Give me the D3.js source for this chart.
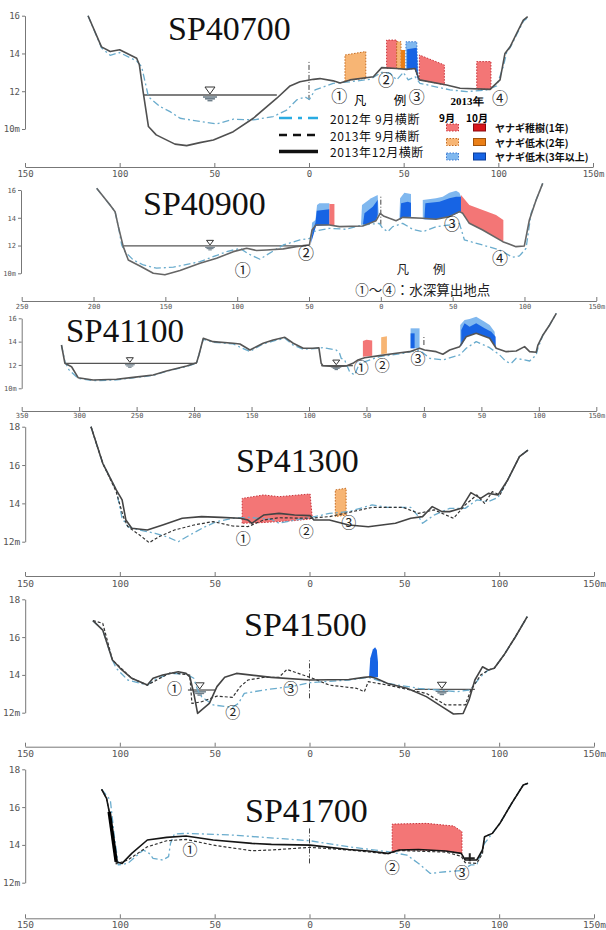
<!DOCTYPE html>
<html><head><meta charset="utf-8">
<script src="https://cdn.jsdelivr.net/npm/d3@7"></script>
<style>
body{margin:0;background:#fff}
svg{display:block}
.ax text{font-family:"DejaVu Sans Mono",monospace;fill:#555}
.ax path,.ax line{stroke:#777;stroke-width:1}
</style>
</head><body>
<svg id="chart" width="606" height="930"></svg>
<script>
// ---------- tick values ----------
const ticksStd = [-150, -100, -50, 0, 50, 100, 150];
const ticksWide = [-250, -200, -150, -100, -50, 0, 50, 100, 150];
const ticksWider = [-350, -300, -250, -200, -150, -100, -50, 0, 50, 100, 150];
const elevLow = [10, 12, 14, 16];
const elevHigh = [12, 14, 16, 18];

// ---------- SP40700 ----------
const sp40700_dec2013 = [[-116.7,16.0],[-109.6,14.35],[-105,14.1],[-100,14.2],[-91,13.75],[-89.6,13.4],[-87.5,11.9],[-84.8,10.13],[-80.7,9.69],[-70.8,9.2],[-64.6,9.12],[-57.6,9.28],[-50.5,9.42],[-40,9.86],[-29.4,10.57],[-17,11.63],[-10,12.28],[-4.8,12.5],[2.3,12.63],[5.8,12.67],[12.8,12.55],[16.4,12.43],[21.7,12.6],[34,12.77],[38.4,13.25],[46.3,13.2],[51.6,13.16],[56,13.2],[58.3,12.6],[72.7,12.33],[79.8,12.16],[95.6,12.1],[100.9,12.6],[103.5,14.0],[106.2,14.35],[109.7,15.07],[113.2,15.77],[115.5,15.95]];
const sp40700_sep2012 = [[-116.7,16.0],[-109.6,14.3],[-105,13.9],[-100,14.05],[-91,13.6],[-88.4,13.3],[-84.8,11.71],[-78.7,11.19],[-73.4,10.92],[-68.1,10.57],[-57.6,10.4],[-48.8,10.27],[-40,10.52],[-29.4,10.48],[-18.9,10.66],[-11.8,11.0],[-6.5,11.54],[-2.1,11.7],[0.2,11.56],[3.2,12.07],[12.8,12.42],[21.7,12.5],[32.2,12.63],[38.4,13.0],[42.8,12.95],[46.3,12.6],[49.8,13.0],[52.4,12.6],[56,12.77],[58.6,12.42],[74.5,12.07],[83.3,11.98],[93.8,12.07],[99.1,12.28],[102.6,13.3],[104.5,14.1],[106.2,14.3],[109.7,15.0],[113.2,15.7],[115.5,15.9]];
const sp40700_willow = [
  ["o9", [[19,12.5],[19,13.92],[30,14.1],[30,12.68],[21.7,12.6]]],
  ["p9", [[41,13.22],[41,14.71],[46.3,14.71],[46.3,13.2]]],
  ["o9", [[46.3,13.2],[46.3,14.62],[48.6,14.62],[48.6,13.18]]],
  ["o10", [[48.6,13.18],[48.6,14.18],[50.7,14.18],[50.7,13.17]]],
  ["b9", [[51.2,13.16],[51.2,14.62],[56.9,14.62],[57.6,12.62],[56,13.2]]],
  ["b10", [[51.8,13.16],[51.8,14.22],[56.9,14.3],[57.6,12.62],[56,13.2]]],
  ["p9", [[58.3,12.6],[58.3,13.92],[71.5,13.39],[71.5,12.34]]],
  ["p9", [[88.6,12.12],[88.6,13.57],[96.1,13.57],[96.1,12.1]]]
];
const sp40700_water = [[-87.5, -17, 11.8, -52.3]];
const sp40700_center = [11.54, 13.57];
const sp40700_points = [["①",16.0,11.8],["②",40.7,12.65],["③",56.9,11.76],["④",100.9,11.71]];

// ---------- SP40900 ----------
const sp40900_dec2013 = [[-197.8,16.12],[-188.5,14.92],[-185,14.44],[-182.7,13.36],[-179.3,11.92],[-175.8,10.96],[-167.7,10.53],[-158.4,10.0],[-150.3,9.89],[-139.8,10.2],[-125.9,10.72],[-114.3,11.08],[-102.7,11.56],[-93.4,11.8],[-86.5,11.64],[-79.5,11.68],[-67.9,11.76],[-59,11.92],[-49.7,12.05],[-47.9,13.12],[-45.1,13.48],[-35.8,13.48],[-28.8,13.36],[-12.6,13.41],[-3.3,13.79],[-0.5,14.32],[1.8,14.13],[6,13.96],[10.6,13.79],[15.2,14.03],[29.2,13.96],[38.4,13.89],[47.7,14.08],[54.7,14.44],[57,14.32],[61.6,13.6],[70.9,13.12],[84.9,12.28],[94.1,11.92],[99.9,11.97],[103.4,13.84],[108.1,15.28],[112.7,16.48]];
const sp40900_sep2012 = [[-197.8,16.12],[-188.5,14.92],[-185,14.44],[-182.7,13.36],[-180.4,12.04],[-178.1,11.56],[-172.3,10.96],[-165.3,10.6],[-156.1,10.37],[-144.4,10.44],[-125.9,10.84],[-107.3,11.56],[-98,11.8],[-92.2,11.4],[-84.1,11.01],[-79.5,11.32],[-67.9,12.04],[-56.3,12.4],[-49.3,12.52],[-47.4,13.0],[-35.8,13.24],[-24.2,13.17],[-12.6,13.48],[-1,13.6],[1.3,13.24],[4.8,13.0],[8.3,13.36],[15.2,13.6],[22.2,13.17],[29.2,13.0],[32.6,13.12],[38.4,13.36],[47.7,13.48],[54.7,13.6],[58.2,12.4],[70.9,12.04],[82.5,11.68],[91.8,11.16],[96.5,11.25],[101.1,11.8],[104.6,14.32],[108.1,15.28],[112.7,16.48]];
const sp40900_willow = [
  ["b9", [[-48.6,12.28],[-47.9,13.65],[-45.5,13.84],[-44.4,14.92],[-42.8,15.04],[-35.8,15.04],[-35.8,13.48],[-45.1,13.48]]],
  ["b10", [[-48.6,12.16],[-47.4,13.12],[-45.5,13.65],[-44.6,14.51],[-35.8,14.61],[-35.8,13.48],[-45.1,13.41]]],
  ["p9", [[-35.8,14.99],[-32.3,14.99],[-32.3,13.45],[-35.8,13.48]]],
  ["b9", [[-13.8,13.48],[-13.1,14.92],[-6.8,15.4],[-2.2,15.64],[-1.5,14.32],[-3.3,13.79]]],
  ["b10", [[-12.6,13.41],[-11.4,14.32],[-5.6,14.8],[-2.2,15.28],[-2.2,14.2],[-3.3,13.79]]],
  ["b9", [[12.9,13.84],[13.4,15.4],[16.4,15.81],[21,15.71],[21,14.08],[15.2,14.03]]],
  ["b10", [[13.4,13.84],[14.1,15.04],[18.7,15.16],[21,15.09],[21,14.08],[15.2,14.03]]],
  ["b9", [[29.2,13.89],[29.2,15.28],[38.4,15.4],[43.1,15.52],[47.7,15.81],[52.4,15.95],[54.7,15.81],[55.8,15.52],[55.8,14.44],[47.7,14.08],[38.4,13.89]]],
  ["b10", [[30.3,13.89],[31,15.04],[40.8,15.16],[47.7,15.4],[52.4,15.52],[55.8,15.52],[55.8,14.44],[47.7,14.08],[38.4,13.89]]],
  ["p9", [[55.8,15.64],[61.6,14.92],[70.9,14.56],[80.2,14.2],[85.3,13.84],[85.3,12.28],[70.9,13.12],[61.6,13.6],[57,14.32],[55.8,14.44]]]
];
const sp40900_water = [[-179.3, -52, 11.97, -118.9]];
const sp40900_center = [13.5, 15.6];
const sp40900_points = [["①",-96.1,10.3],["②",-52.1,11.56],["③",49.6,13.65],["④",83,11.2]];

// ---------- SP41100 ----------
const sp41100_dec2013 = [[-315.4,13.71],[-312.4,12.14],[-306.6,11.85],[-300.9,10.91],[-287.8,10.71],[-267.5,10.77],[-253,10.94],[-235.6,11.14],[-224,11.48],[-206.5,11.91],[-197.8,12.2],[-195.8,12.86],[-192,14.29],[-183.4,14.0],[-166,13.86],[-160.1,13.8],[-151.4,13.28],[-139.9,13.86],[-131.2,14.14],[-121,14.37],[-113.7,13.86],[-105,13.43],[-96.6,13.43],[-91.4,13.48],[-89.4,12.14],[-87.9,11.94],[-76.3,11.85],[-67.6,11.91],[-61.8,12.14],[-57.4,12.43],[-51.6,12.62],[-38.6,12.8],[-24.1,13.0],[-12.5,13.14],[-3.8,13.43],[0.6,13.28],[10.7,13.14],[16.5,12.92],[22.4,13.28],[31.1,13.57],[36.8,14.42],[45.5,14.71],[57.2,14.29],[62.9,13.43],[71.6,13.14],[80.3,13.2],[87.6,13.57],[92,13.14],[97.7,13.09],[99.2,13.71],[103.6,14.57],[109.4,15.43],[115.2,16.43]];
const sp41100_sep2012 = [[-315.4,13.71],[-312.4,12.3],[-309,11.6],[-300.9,10.85],[-287.8,10.65],[-267.5,10.72],[-253,10.9],[-235.6,11.1],[-224,11.45],[-206.5,11.88],[-197.8,12.15],[-195.8,12.86],[-192,14.2],[-183.4,13.95],[-166,13.8],[-151.4,13.15],[-139.9,13.8],[-131.2,14.05],[-121,14.3],[-113.7,13.7],[-105,13.35],[-92.3,13.43],[-87.9,13.48],[-76.3,13.28],[-73.4,13.0],[-72,12.57],[-69,12.43],[-64.7,11.42],[-60.3,11.14],[-56,12.14],[-38.6,12.71],[-18.3,13.0],[-3.8,13.28],[5,12.57],[16.5,12.43],[31.1,12.86],[36.8,13.43],[45.5,14.0],[57.2,13.48],[65.9,12.86],[71.6,12.28],[76,12.14],[80.3,12.57],[92,12.34],[97.7,12.86],[99.2,13.43],[103.6,14.57],[109.4,15.43],[115.2,16.43]];
const sp41100_willow = [
  ["p9", [[-53.1,12.71],[-53.1,14.05],[-50,14.16],[-45,14.1],[-45,12.8]]],
  ["o9", [[-37.2,12.92],[-37.2,14.37],[-32.2,14.47],[-32.2,12.98]]],
  ["b9", [[-11.6,13.43],[-11.6,15.14],[-3.8,15.14],[-3.8,13.43]]],
  ["b10", [[-11.6,13.43],[-11.6,14.71],[-8.1,14.71],[-8.1,13.43]]],
  ["b9", [[31.6,13.57],[31.6,15.43],[35.4,15.85],[39.7,15.94],[45.5,16.14],[52.8,15.71],[57.2,15.43],[61.5,14.85],[62.4,13.57],[57.2,14.29],[45.5,14.71],[36.8,14.42]]],
  ["b10", [[32.5,13.6],[32.5,15.0],[35.4,15.57],[39.7,15.28],[45.5,15.57],[52.8,15.14],[58.6,14.85],[62.4,14.42],[62.4,13.57],[57.2,14.29],[45.5,14.71],[36.8,14.42]]]
];
const sp41100_water = [[-312.4, -197.8, 12.14, -255.9], [-89.4, -61.8, 11.94, -76.3]];
const sp41100_center = [13.71, 14.57];
const sp41100_points = [["①",-54.6,11.85],["②",-36.3,12.0],["③",-5.2,12.66]];

// ---------- SP41300 ----------
const sp41300_dec2013 = [[-115.2,18.0],[-109,16.09],[-101.9,14.7],[-98.8,14.18],[-96.8,13.13],[-93.7,12.7],[-85.5,12.61],[-77.4,12.87],[-67.1,13.22],[-56.9,13.31],[-46.7,13.27],[-36.5,13.22],[-32.4,13.13],[-30.4,12.96],[-24.2,13.39],[-16.1,13.48],[-7.9,13.39],[0.3,13.36],[2.3,13.13],[10.5,13.13],[20.7,12.87],[31,12.78],[45.3,12.96],[53.4,13.22],[59.6,13.31],[64.7,13.83],[69.8,13.57],[73.9,13.57],[80,13.74],[85.1,14.56],[90.2,14.26],[94.3,14.52],[99.4,14.44],[104.5,15.22],[110.7,16.44],[115.2,16.78]];
const sp41300_sep2012 = [[-115.2,18.0],[-109,16.09],[-101.9,14.7],[-98.8,13.22],[-95.8,12.79],[-89.6,12.61],[-81.4,12.44],[-75.3,12.26],[-69.2,12.0],[-63.1,12.35],[-54.9,12.79],[-48.8,13.05],[-40.6,13.22],[-32.4,13.27],[-20.1,13.17],[-16.1,12.96],[-7.9,13.13],[0.3,13.25],[10.5,13.48],[20.7,13.57],[33,13.92],[41.2,13.79],[53.4,13.79],[57.5,13.31],[59.6,12.96],[65.7,13.39],[73.9,13.74],[82.1,13.74],[88.2,14.18],[94.3,14.09],[99.4,14.31],[104.5,15.22],[110.7,16.44],[115.2,16.78]];
const sp41300_sep2013 = [[-115.2,18.0],[-109,16.09],[-101.9,14.6],[-98.2,13.31],[-95.8,12.79],[-89.6,12.35],[-84.5,11.95],[-79.4,12.26],[-71.2,12.61],[-61,12.87],[-50.8,13.05],[-40.6,12.82],[-32.4,12.79],[-24.2,13.13],[-16.1,13.25],[0.3,13.22],[10.5,13.31],[16.6,13.44],[33,13.79],[49.4,13.79],[57.5,13.48],[65.7,13.66],[75.9,13.22],[82.1,13.92],[88.2,14.44],[92.3,14.0],[96.4,14.61],[100.4,14.44],[104.5,15.22],[110.7,16.44],[115.2,16.78]];
const sp41300_willow = [
  ["p9", [[-35.5,12.96],[-35.5,14.26],[-24.2,14.44],[-16.1,14.35],[0.3,14.49],[1.5,13.2],[-7.9,13.1],[-16.1,13.05],[-24.2,13.0]]],
  ["o9", [[13.6,13.31],[13.6,14.7],[19.3,14.79],[19.3,13.39]]]
];
const sp41300_water = [];
const sp41300_center = null;
const sp41300_points = [["①",-34.9,12.23],["②",-1.7,12.56],["③",20.7,13.08]];

// ---------- SP41500 ----------
const sp41500_dec2013 = [[-114.2,16.87],[-109,16.37],[-103.9,14.79],[-99.8,14.35],[-93.7,13.82],[-85.5,13.46],[-82.5,13.82],[-77.4,13.99],[-69.2,14.17],[-65.1,14.08],[-63.1,13.9],[-61,13.02],[-59,11.96],[-52.8,12.49],[-48.8,13.38],[-44.7,13.87],[-38.5,14.08],[-20.1,13.87],[0.3,13.73],[20.7,13.76],[28.9,13.87],[32,13.9],[35,13.82],[41.2,13.55],[51.4,13.29],[61.6,12.85],[69.8,12.32],[75.9,11.93],[81,11.96],[84.1,12.67],[87.2,13.73],[91.2,14.43],[94.3,14.26],[97.4,14.35],[102.5,15.05],[108.6,16.02],[114.8,17.08]];
const sp41500_sep2012 = [[-114.2,16.87],[-109,16.37],[-103.9,14.79],[-101.9,14.35],[-95.8,13.73],[-85.5,13.46],[-81.4,13.76],[-73.3,14.08],[-65.1,14.05],[-61,13.82],[-59,13.2],[-56.9,12.85],[-50.8,12.41],[-40.6,12.28],[-37.5,12.49],[-34.4,13.02],[-24.2,13.2],[-9.9,13.38],[0.3,13.59],[20.7,13.73],[31,13.87],[41.2,13.55],[57.5,13.29],[67.7,13.2],[78,13.11],[84.1,13.2],[86.1,13.38],[90.2,13.9],[94.3,14.26],[97.4,14.35],[102.5,15.05],[108.6,16.02],[114.8,17.08]];
const sp41500_sep2013 = [[-114.2,16.87],[-109,16.73],[-103.9,14.79],[-93.7,13.82],[-85.5,13.46],[-73.3,14.12],[-63.1,13.99],[-62,12.49],[-56.9,12.58],[-48.8,12.88],[-40.6,12.81],[-36.5,13.38],[-32.4,13.73],[-24.2,13.87],[-16.1,13.87],[-11.9,14.29],[0.3,13.87],[10.5,13.46],[24.8,13.29],[28.9,13.11],[31,13.64],[41.2,13.46],[61.6,13.02],[71.8,12.41],[82.1,12.41],[85.1,13.2],[90.2,13.99],[94.3,14.26],[97.4,14.35],[102.5,15.05],[108.6,16.02],[114.8,17.08]];
const sp41500_willow = [
  ["b10", [[31.4,13.87],[32,14.87],[33.4,15.35],[34.6,15.46],[35.5,15.32],[36.1,14.7],[36.1,13.87]]]
];
const sp41500_water = [[-64.1, -49.8, 13.2, -57.9], [55.5, 87.2, 13.23, 69.8]];
const sp41500_center = [12.76, 14.79];
const sp41500_points = [["①",-71.2,13.32],["②",-40.5,12.05],["③",-9.9,13.32]];

// ---------- SP41700 ----------
const sp41700_dec2013 = [[-109.6,16.94],[-107,16.46],[-105.6,15.76],[-101.9,13.11],[-98.8,13.02],[-93.7,13.55],[-85.5,14.26],[-75.3,14.4],[-65.1,14.47],[-50.8,14.26],[-30.4,14.08],[-20.1,14.03],[0.3,13.99],[20.7,13.76],[31,13.68],[41.2,13.55],[47.3,13.73],[57.5,13.76],[71.8,13.68],[80,13.55],[82.1,13.2],[88.2,13.2],[91.2,13.73],[92.3,14.43],[96.4,14.61],[100.4,15.14],[106.6,16.2],[112.7,17.17],[115.2,17.26]];
const sp41700_sep2013 = [[-109.6,16.94],[-107,16.46],[-105.6,15.76],[-101.9,13.0],[-95.8,13.2],[-85.5,13.9],[-75.3,14.22],[-65.1,14.29],[-50.8,13.99],[-30.4,13.69],[-20.1,13.73],[0.3,13.87],[20.7,13.73],[41.2,13.52],[47.3,13.7],[71.8,13.62],[80,13.4],[82.1,13.06],[88.2,13.02],[91.2,13.55],[92.3,14.43],[96.4,14.61],[100.4,15.14],[106.6,16.2],[112.7,17.17],[115.2,17.26]];
const sp41700_sep2012 = [[-109.6,16.94],[-105,16.37],[-103,14.52],[-100.8,12.94],[-95.8,13.02],[-87.6,13.73],[-84.5,13.55],[-82.5,13.29],[-77.4,13.2],[-74.3,13.38],[-73.3,14.08],[-71.2,14.58],[-65.1,14.61],[-40.6,14.52],[0.3,14.22],[20.7,13.9],[41.2,13.64],[51.4,13.46],[57.5,13.02],[63.7,12.49],[71.8,12.58],[80,12.64],[85.1,12.94],[88.2,12.94],[92.3,14.08],[96.4,14.61],[100.4,15.14],[106.6,16.2],[112.7,17.17],[115.2,17.26]];
const sp41700_wall = [[-105.6,15.76],[-101.9,13.11]];
const sp41700_willow = [
  ["p9", [[43.6,13.64],[43.6,15.1],[61.6,15.14],[76,15.0],[80.4,14.7],[80.4,13.55],[71.8,13.68],[57.5,13.73],[47.3,13.73]]]
];
const sp41700_water = [];
const sp41700_gauge = [84.5, 13.29];
const sp41700_center = [13.02, 14.96];
const sp41700_points = [["①",-63,13.82],["②",43.6,12.88],["③",80.4,12.58]];

// ---------- legend texts ----------
const legendLineLabels = ["2012年 9月横断", "2013年 9月横断", "2013年12月横断"];
const legendVegLabels = ["ヤナギ稚樹(1年)", "ヤナギ低木(2年)", "ヤナギ低木(3年以上)"];
const legendMonths = ["9月", "10月"];

// ---------- styles ----------
const vegStyle = {
  p9:  {fill: "#f37676", stroke: "#c8323a", dash: "1.5,1.5"},
  o9:  {fill: "#f7b574", stroke: "#c46a1e", dash: "1.5,1.5"},
  b9:  {fill: "#80b8ef", stroke: "#3c78d0", dash: "1.5,1.5"},
  r10: {fill: "#d8151b", stroke: "#8a0a0e", dash: null},
  o10: {fill: "#ea7f17", stroke: "#a0520a", dash: null},
  b10: {fill: "#1764e4", stroke: "#0b3d9a", dash: null}
};
const lineStyle = {
  sep2012: {stroke: "#6aaccd", width: 1.3, dash: "7,3,2,3"},
  sep2013: {stroke: "#333", width: 1.2, dash: "3,2"},
  dec2013: {stroke: "#4a4a4a", width: 1.6, dash: null}
};

const panels = [
  {title: "SP40700", tx: 168, ty: 40, fs: 34, xd: [-150,150], xr: [25,593], yd: [10,16], yr: [129,15.7],
   axisY: 167, axisX: 25, xTicks: ticksStd, yTicks: elevLow, lf: 9, pad: 4,
   lines: {sep2012: sp40700_sep2012, dec2013: sp40700_dec2013}, willow: sp40700_willow, border: true,
   water: sp40700_water, ws: 1, center: sp40700_center, points: sp40700_points, pf: 16, solid: "#505050"},
  {title: "SP40900", tx: 143, ty: 215, fs: 34, xd: [-250,150], xr: [21.7,596.3], yd: [10,16], yr: [273.3,190],
   axisY: 301, axisX: 21, xTicks: ticksWide, yTicks: elevLow, lf: 7, pad: 3,
   lines: {sep2012: sp40900_sep2012, dec2013: sp40900_dec2013}, willow: sp40900_willow, border: false,
   water: sp40900_water, ws: 0.7, center: sp40900_center, points: sp40900_points, pf: 16, solid: "#666"},
  {title: "SP41100", tx: 66, ty: 342, fs: 33, xd: [-350,150], xr: [21.7,596.3], yd: [10,16], yr: [388.3,318.3],
   axisY: 411, axisX: 21.7, xTicks: ticksWider, yTicks: elevLow, lf: 7, pad: 2,
   lines: {sep2012: sp41100_sep2012, dec2013: sp41100_dec2013}, willow: sp41100_willow, border: false,
   water: sp41100_water, ws: 0.7, center: sp41100_center, points: sp41100_points, pf: 15, solid: "#555"},
  {title: "SP41300", tx: 236, ty: 472, fs: 34, xd: [-150,150], xr: [25,594], yd: [12,18], yr: [541.7,426.7],
   axisY: 576, axisX: 25.2, xTicks: ticksStd, yTicks: elevHigh, lf: 9.5, pad: 4,
   lines: {sep2012: sp41300_sep2012, sep2013: sp41300_sep2013, dec2013: sp41300_dec2013}, willow: sp41300_willow, border: true,
   water: sp41300_water, ws: 1, center: sp41300_center, points: sp41300_points, pf: 15, solid: "#444"},
  {title: "SP41500", tx: 244, ty: 636, fs: 34, xd: [-150,150], xr: [25,594], yd: [12,18], yr: [712.7,599.3],
   axisY: 746.7, axisX: 25.2, xTicks: ticksStd, yTicks: elevHigh, lf: 9.5, pad: 4,
   lines: {sep2012: sp41500_sep2012, sep2013: sp41500_sep2013, dec2013: sp41500_dec2013}, willow: sp41500_willow, border: false,
   water: sp41500_water, ws: 0.9, center: sp41500_center, points: sp41500_points, pf: 15, solid: "#444"},
  {title: "SP41700", tx: 245, ty: 822, fs: 34, xd: [-150,150], xr: [25,594], yd: [12,18], yr: [882.7,769.3],
   axisY: 918.3, axisX: 25.2, xTicks: ticksStd, yTicks: elevHigh, lf: 9.5, pad: 3,
   lines: {sep2012: sp41700_sep2012, sep2013: sp41700_sep2013, dec2013: sp41700_dec2013}, willow: sp41700_willow, border: true,
   water: sp41700_water, ws: 1, center: sp41700_center, points: sp41700_points, pf: 15, solid: "#151515",
   wall: sp41700_wall, gauge: sp41700_gauge}
];

const svg = d3.select("#chart");
const fmtX = d => Math.abs(d) + (d === 150 ? "m" : "");

function drawWater(g, x, y, w, s) {
  const [x0, x1, lvl, xs] = w;
  const wy = y(lvl);
  g.append("line").attr("x1", x(x0)).attr("x2", x(x1)).attr("y1", wy).attr("y2", wy)
    .attr("stroke", "#555").attr("stroke-width", 1.3);
  const cx = x(xs);
  g.append("path")
    .attr("d", `M${cx - 5 * s},${wy - 8 * s}L${cx + 5 * s},${wy - 8 * s}L${cx},${wy - 1}Z`)
    .attr("fill", "#fff").attr("stroke", "#333").attr("stroke-width", 1);
  [[7, 2], [5, 3.8], [2.5, 5.6]].forEach(([hw, dy]) => {
    g.append("line").attr("x1", cx - hw * s).attr("x2", cx + hw * s)
      .attr("y1", wy + dy * s).attr("y2", wy + dy * s)
      .attr("stroke", "#6f7f8a").attr("stroke-width", 1.6 * s);
  });
}

panels.forEach(p => {
  const g = svg.append("g");
  const x = d3.scaleLinear().domain(p.xd).range(p.xr);
  const y = d3.scaleLinear().domain(p.yd).range(p.yr);
  const line = d3.line().x(d => x(d[0])).y(d => y(d[1]));

  // axes
  const xa = g.append("g").attr("class", "ax").attr("transform", `translate(0,${p.axisY})`)
    .call(d3.axisBottom(x).tickValues(p.xTicks).tickSizeInner(-4).tickSizeOuter(0)
      .tickPadding(p.pad).tickFormat(fmtX));
  xa.selectAll("text").attr("font-size", p.lf);
  const low = p.yTicks[0];
  const ya = g.append("g").attr("class", "ax").attr("transform", `translate(${p.axisX},0)`)
    .call(d3.axisLeft(y).tickValues(p.yTicks).tickSizeInner(3).tickSizeOuter(0)
      .tickPadding(2).tickFormat(d => d + (d === low ? "m" : "")));
  ya.selectAll("text").attr("font-size", p.lf);
  g.selectAll(".ax .domain").attr("fill", "none");

  // title
  g.append("text").attr("x", p.tx).attr("y", p.ty)
    .attr("font-family", "'Liberation Serif','Times New Roman',serif")
    .attr("font-size", p.fs).attr("fill", "#111").text(p.title);

  // willow stands
  p.willow.forEach(([kind, pts]) => {
    const st = vegStyle[kind];
    const path = g.append("path").attr("d", line(pts) + "Z").attr("fill", st.fill);
    if (p.border && st.dash) {
      path.attr("stroke", st.stroke).attr("stroke-width", 1).attr("stroke-dasharray", st.dash);
    } else {
      path.attr("stroke", "none");
    }
  });

  // centre line
  if (p.center) {
    g.append("line").attr("x1", x(0)).attr("x2", x(0))
      .attr("y1", y(p.center[0])).attr("y2", y(p.center[1]))
      .attr("stroke", "#444").attr("stroke-width", 1).attr("stroke-dasharray", "5,2,1,2");
  }

  // water levels
  p.water.forEach(w => drawWater(g, x, y, w, p.ws));

  // cross-section profiles
  ["sep2012", "sep2013", "dec2013"].forEach(k => {
    if (!p.lines[k]) return;
    const st = lineStyle[k];
    g.append("path").attr("d", line(p.lines[k])).attr("fill", "none")
      .attr("stroke", k === "dec2013" ? p.solid : st.stroke)
      .attr("stroke-width", st.width)
      .attr("stroke-dasharray", st.dash)
      .attr("stroke-linejoin", "round");
  });

  if (p.wall) {
    g.append("path").attr("d", line(p.wall)).attr("stroke", "#000").attr("stroke-width", 3.5).attr("fill", "none");
  }
  if (p.gauge) {
    const gx = x(p.gauge[0]), gy = y(p.gauge[1]);
    g.append("path").attr("d", `M${gx - 5},${gy}H${gx + 5}M${gx},${gy - 5}V${gy + 3}`)
      .attr("stroke", "#222").attr("stroke-width", 2);
  }

  // depth calculation points
  g.selectAll(null).data(p.points).join("text")
    .attr("x", d => x(d[1])).attr("y", d => y(d[2]))
    .attr("text-anchor", "middle").attr("dominant-baseline", "central")
    .attr("font-family", "'Noto Sans CJK JP',sans-serif").attr("font-size", p.pf)
    .attr("fill", "#222").text(d => d[0]);
});

// ---------- legend (SP40700) ----------
const lg = svg.append("g").attr("font-family", "'Noto Sans CJK JP',sans-serif");
lg.append("text").attr("x", 360).attr("y", 99).attr("text-anchor", "middle").attr("dominant-baseline", "central")
  .attr("font-size", 12.5).text("凡");
lg.append("text").attr("x", 400).attr("y", 99).attr("text-anchor", "middle").attr("dominant-baseline", "central")
  .attr("font-size", 12.5).text("例");
const legendStroke = [
  {stroke: "#29abe2", width: 2.4, dash: "13,6,4,6"},
  {stroke: "#111", width: 2.4, dash: "8,6"},
  {stroke: "#111", width: 3.6, dash: null}
];
legendLineLabels.forEach((t, i) => {
  const yy = [118, 135, 151.5][i];
  lg.append("line").attr("x1", 279).attr("x2", 318).attr("y1", yy).attr("y2", yy)
    .attr("stroke", legendStroke[i].stroke).attr("stroke-width", legendStroke[i].width)
    .attr("stroke-dasharray", legendStroke[i].dash);
  lg.append("text").attr("x", 330).attr("y", yy).attr("dominant-baseline", "central")
    .attr("font-size", 12).attr("letter-spacing", 0.6).attr("fill", "#111").text(t);
});
lg.append("text").attr("x", 467).attr("y", 101).attr("text-anchor", "middle").attr("dominant-baseline", "central")
  .attr("font-family", "'Liberation Serif',serif").attr("font-weight", "bold").attr("font-size", 11).text("2013年");
legendMonths.forEach((t, i) => {
  lg.append("text").attr("x", [447, 477][i]).attr("y", 117).attr("text-anchor", "middle")
    .attr("dominant-baseline", "central").attr("font-weight", "bold").attr("font-size", 10).text(t);
});
const vegRows = [["p9", "r10"], ["o9", "o10"], ["b9", "b10"]];
legendVegLabels.forEach((t, i) => {
  const yy = [127.5, 142, 156.5][i];
  vegRows[i].forEach((k, j) => {
    const st = vegStyle[k];
    lg.append("rect").attr("x", [446.5, 473.5][j]).attr("y", yy - 3.5).attr("width", 12).attr("height", 7)
      .attr("fill", st.fill).attr("stroke", st.stroke).attr("stroke-width", 1)
      .attr("stroke-dasharray", st.dash);
  });
  lg.append("text").attr("x", 495).attr("y", yy).attr("dominant-baseline", "central")
    .attr("font-weight", "bold").attr("font-size", 10).attr("fill", "#111").text(t);
});

// ---------- legend (SP40900) ----------
const lg2 = svg.append("g").attr("font-family", "'Noto Sans CJK JP',sans-serif").attr("fill", "#222");
lg2.append("text").attr("x", 402.7).attr("y", 268).attr("text-anchor", "middle").attr("dominant-baseline", "central")
  .attr("font-size", 12.5).text("凡");
lg2.append("text").attr("x", 439.3).attr("y", 268).attr("text-anchor", "middle").attr("dominant-baseline", "central")
  .attr("font-size", 12.5).text("例");
lg2.append("text").attr("x", 422.7).attr("y", 288.5).attr("text-anchor", "middle").attr("dominant-baseline", "central")
  .attr("font-size", 13.5).text("①〜④：水深算出地点");
</script>
</body></html>
